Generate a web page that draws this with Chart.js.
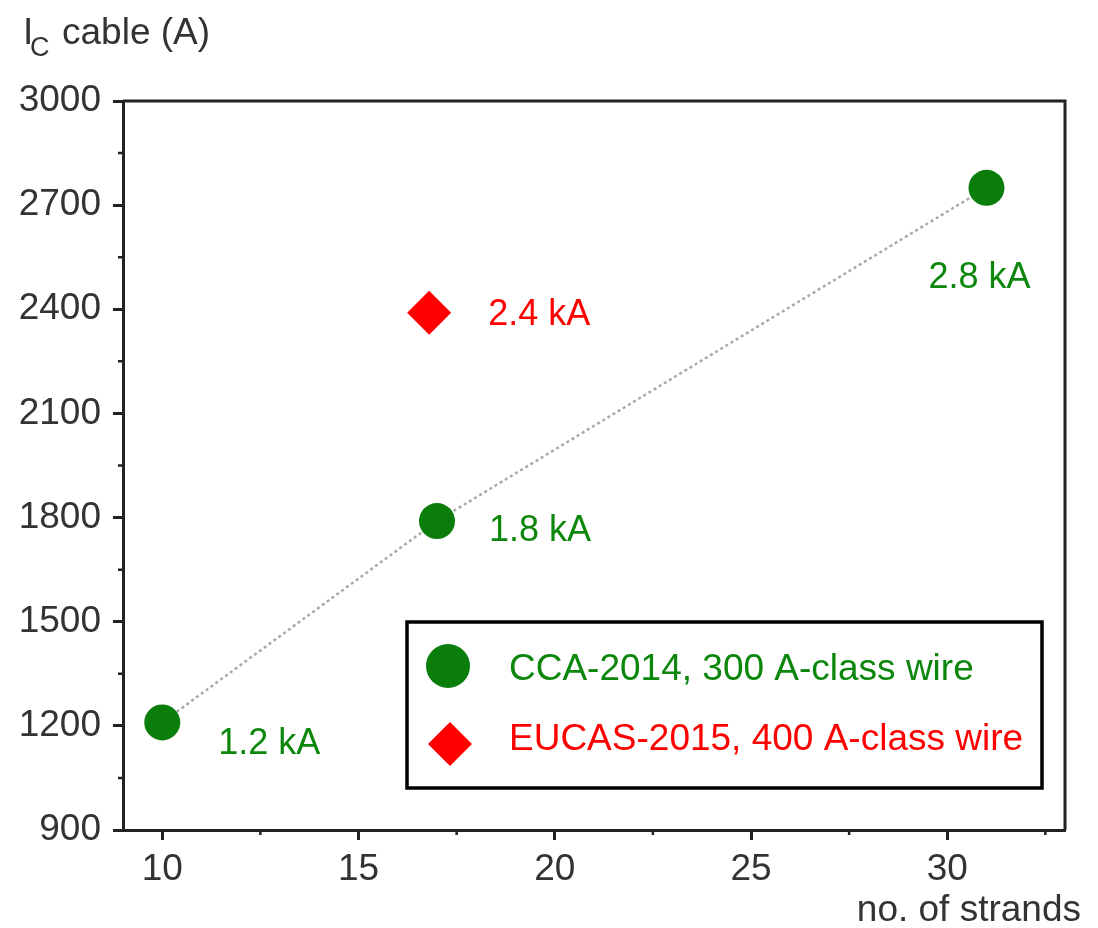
<!DOCTYPE html>
<html>
<head>
<meta charset="utf-8">
<script src="https://cdn.jsdelivr.net/npm/chart.js@4.4.1/dist/chart.umd.min.js"></script>
<style>
  html, body { margin: 0; padding: 0; background: #fff; }
  #wrap { width: 1098px; height: 928px; }
</style>
</head>
<body>
<div id="wrap"><canvas id="c" width="1098" height="928"></canvas></div>
<script>
// cable critical current vs. number of strands
var strands2014 = [10, 17, 31];
var current2014 = [1210, 1790, 2750];
var strands2015 = [16.8];
var current2015 = [2390];
var seriesNames = ['CCA-2014, 300 A-class wire', 'EUCAS-2015, 400 A-class wire'];

var xTicks = [10, 15, 20, 25, 30];
var xMinorTicks = [12.5, 17.5, 22.5, 27.5, 32.5];
var yTicks = [900, 1200, 1500, 1800, 2100, 2400, 2700, 3000];
var yMinorTicks = [1050, 1350, 1650, 1950, 2250, 2550, 2850];

var FONT = "'Liberation Sans', Arial, sans-serif";
var GREEN = '#0b7d0b';
var GREEN_TXT = '#0c870c';
var RED = '#ff0000';
var AXIS = '#222';

// where each value label sits relative to its marker (px)
var labelOffsets = [
  [{ dx: 56, dy: 22, align: 'left' }, { dx: 52, dy: 10, align: 'left' }, { dx: -7, dy: 90, align: 'center' }],
  [{ dx: 59, dy: 2, align: 'left' }]
];

function kA(v) { return (Math.round(v / 100) / 10).toFixed(1) + ' kA'; }
function pts(xs, ys) { return xs.map(function (x, i) { return { x: x, y: ys[i] }; }); }

// frame, minor ticks, value labels, axis titles, legend box
var decor = {
  id: 'decor',
  afterDatasetsDraw: function (chart) {
    var ctx = chart.ctx, a = chart.chartArea;
    var xs = chart.scales.x, ys = chart.scales.y;
    ctx.save();

    // top / right edges of the frame
    ctx.strokeStyle = AXIS;
    ctx.lineWidth = 3;
    ctx.beginPath();
    ctx.moveTo(a.left, a.top);
    ctx.lineTo(a.right, a.top);
    ctx.lineTo(a.right, a.bottom);
    ctx.stroke();

    // minor ticks
    ctx.lineWidth = 2.5;
    ctx.beginPath();
    xMinorTicks.forEach(function (v) {
      var px = xs.getPixelForValue(v);
      ctx.moveTo(px, a.bottom); ctx.lineTo(px, a.bottom + 5);
    });
    yMinorTicks.forEach(function (v) {
      var py = ys.getPixelForValue(v);
      ctx.moveTo(a.left, py); ctx.lineTo(a.left - 5, py);
    });
    ctx.stroke();

    // value labels next to the markers
    ctx.font = '36px ' + FONT;
    ctx.textBaseline = 'middle';
    chart.data.datasets.forEach(function (ds, di) {
      var meta = chart.getDatasetMeta(di);
      meta.data.forEach(function (el, i) {
        var o = labelOffsets[di][i];
        ctx.fillStyle = di === 0 ? GREEN_TXT : RED;
        ctx.textAlign = o.align;
        ctx.fillText(kA(ds.data[i].y), el.x + o.dx, el.y + o.dy);
      });
    });

    // axis titles
    ctx.fillStyle = '#333';
    ctx.textAlign = 'left';
    ctx.textBaseline = 'alphabetic';
    ctx.font = '37px ' + FONT;
    ctx.fillText('I', 23, 44);
    ctx.font = '27px ' + FONT;
    ctx.fillText('C', 30, 56);
    ctx.font = '37px ' + FONT;
    ctx.fillText('cable (A)', 62, 44);
    ctx.textAlign = 'right';
    ctx.fillText('no. of strands', 1081, 921);

    // legend
    var lx = 407, ly = 622, lw = 635, lh = 166;
    ctx.fillStyle = '#fff';
    ctx.fillRect(lx, ly, lw, lh);
    ctx.strokeStyle = '#000';
    ctx.lineWidth = 3.5;
    ctx.strokeRect(lx, ly, lw, lh);

    ctx.fillStyle = GREEN;
    ctx.beginPath();
    ctx.arc(448, 666, 22, 0, Math.PI * 2);
    ctx.fill();
    ctx.fillStyle = RED;
    ctx.beginPath();
    ctx.moveTo(450, 722); ctx.lineTo(472, 744); ctx.lineTo(450, 766); ctx.lineTo(428, 744);
    ctx.closePath();
    ctx.fill();

    ctx.font = '37px ' + FONT;
    ctx.textAlign = 'left';
    ctx.textBaseline = 'middle';
    ctx.fillStyle = GREEN_TXT;
    ctx.fillText(seriesNames[0], 509, 670);
    ctx.fillStyle = RED;
    ctx.fillText(seriesNames[1], 509, 740);

    ctx.restore();
  }
};

new Chart(document.getElementById('c'), {
  type: 'scatter',
  data: {
    datasets: [{
      label: seriesNames[0],
      data: pts(strands2014, current2014),
      showLine: true,
      borderColor: '#a9a9a9',
      borderWidth: 2.5,
      borderDash: [3, 3],
      pointStyle: 'circle',
      pointRadius: 18,
      pointBackgroundColor: GREEN,
      pointBorderWidth: 0
    }, {
      label: seriesNames[1],
      data: pts(strands2015, current2015),
      showLine: false,
      pointStyle: 'rectRot',
      pointRadius: 22,
      pointBackgroundColor: RED,
      pointBorderWidth: 0
    }]
  },
  options: {
    responsive: false,
    animation: false,
    devicePixelRatio: 1,
    layout: { padding: { top: 101, right: 33, bottom: 0, left: 0 } },
    plugins: { legend: { display: false }, tooltip: { enabled: false } },
    scales: {
      x: {
        type: 'linear', min: 9, max: 33,
        afterBuildTicks: function (s) { s.ticks = xTicks.map(function (v) { return { value: v }; }); },
        afterFit: function (s) { s.height = 98; },
        grid: { drawOnChartArea: false, drawTicks: true, tickLength: 10, tickWidth: 3, tickColor: AXIS },
        border: { display: true, color: AXIS, width: 3 },
        ticks: { color: '#333', padding: 8, font: { family: FONT, size: 37 }, maxRotation: 0,
          callback: function (v) { return String(v); } }
      },
      y: {
        type: 'linear', min: 900, max: 3000,
        afterBuildTicks: function (s) { s.ticks = yTicks.map(function (v) { return { value: v }; }); },
        afterFit: function (s) { s.width = 123; },
        grid: { drawOnChartArea: false, drawTicks: true, tickLength: 10, tickWidth: 3, tickColor: AXIS },
        border: { display: true, color: AXIS, width: 3 },
        ticks: { color: '#333', padding: 12, font: { family: FONT, size: 37 },
          callback: function (v) { return String(v); } }
      }
    }
  },
  plugins: [decor]
});
</script>
</body>
</html>
